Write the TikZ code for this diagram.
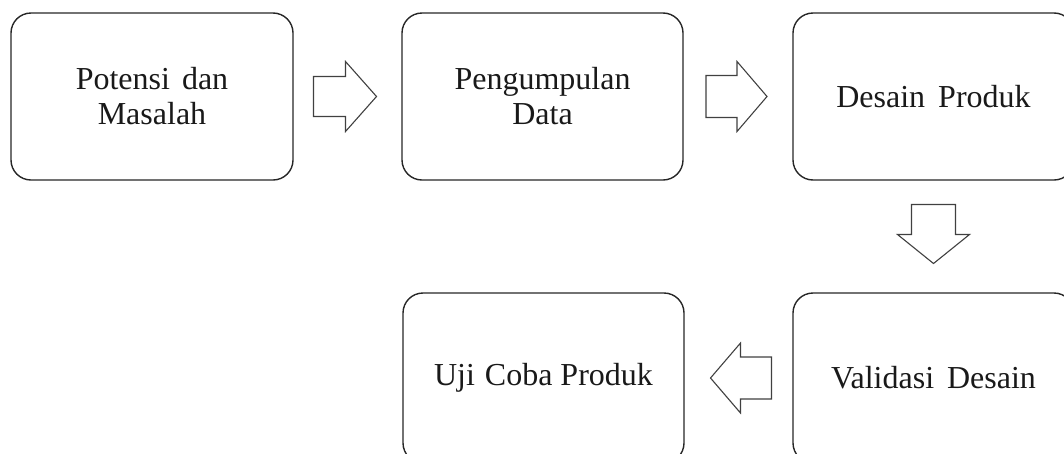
\documentclass[tikz,border=0pt]{standalone}
\usepackage{fontspec}
\setmainfont{Liberation Serif}
\usetikzlibrary{calc}
\begin{document}
\begin{tikzpicture}[x=1pt,y=-1pt,
  stepbox/.style={draw=black!85, line width=1.4pt, rounded corners=20pt,
    minimum width=281pt, minimum height=167pt, inner sep=0pt, align=center,
    font=\fontsize{32}{35}\selectfont, text=black!90},
  blockarr/.style={draw=black!75, line width=1.1pt, fill=white, line join=miter}]
\useasboundingbox (0,0) rectangle (1064,453);
\clip (0,0) rectangle (1064,453);
\node[stepbox, minimum width=282pt] (b1) at (152,96.5) {Potensi\hspace{12pt}dan\\Masalah};
\node[stepbox] (b2) at (542.5,96.5) {Pengumpulan\\Data};
\node[stepbox] (b3) at (933.5,96.5) {Desain\hspace{13pt}Produk};
\node[stepbox, minimum height=170pt] (b5) at (933.5,378) {Validasi\hspace{13pt}Desain};
\node[stepbox, minimum height=170pt] (b4) at (543.5,378) {Uji\hspace{10pt}Coba Produk};
\coordinate (m12) at ($(b1.east)!0.5!(b2.west)$);
\coordinate (m23) at ($(b2.east)!0.5!(b3.west)$);
\coordinate (m35) at ($(b3.south)!0.5!(b5.north)$);
\coordinate (m54) at ($(b5.west)!0.5!(b4.east)$);
\draw[blockarr, shift={(m12)}] (-34,-20) -- (-2,-20) -- (-2,-35) -- (29,0) -- (-2,35) -- (-2,20) -- (-34,20) -- cycle;
\draw[blockarr, shift={(m23)}] (-32,-21) -- (-1,-21) -- (-1,-35) -- (29,0) -- (-1,35) -- (-1,21) -- (-32,21) -- cycle;
\draw[blockarr, shift={(m35)}] (-22,-32) -- (-22,-2) -- (-36,-2) -- (0,27) -- (36,-2) -- (22,-2) -- (22,-32) -- cycle;
\draw[blockarr, shift={(m54)}] (33,-21) -- (2,-21) -- (2,-35) -- (-28,0) -- (2,35) -- (2,21) -- (33,21) -- cycle;
\end{tikzpicture}
\end{document}
